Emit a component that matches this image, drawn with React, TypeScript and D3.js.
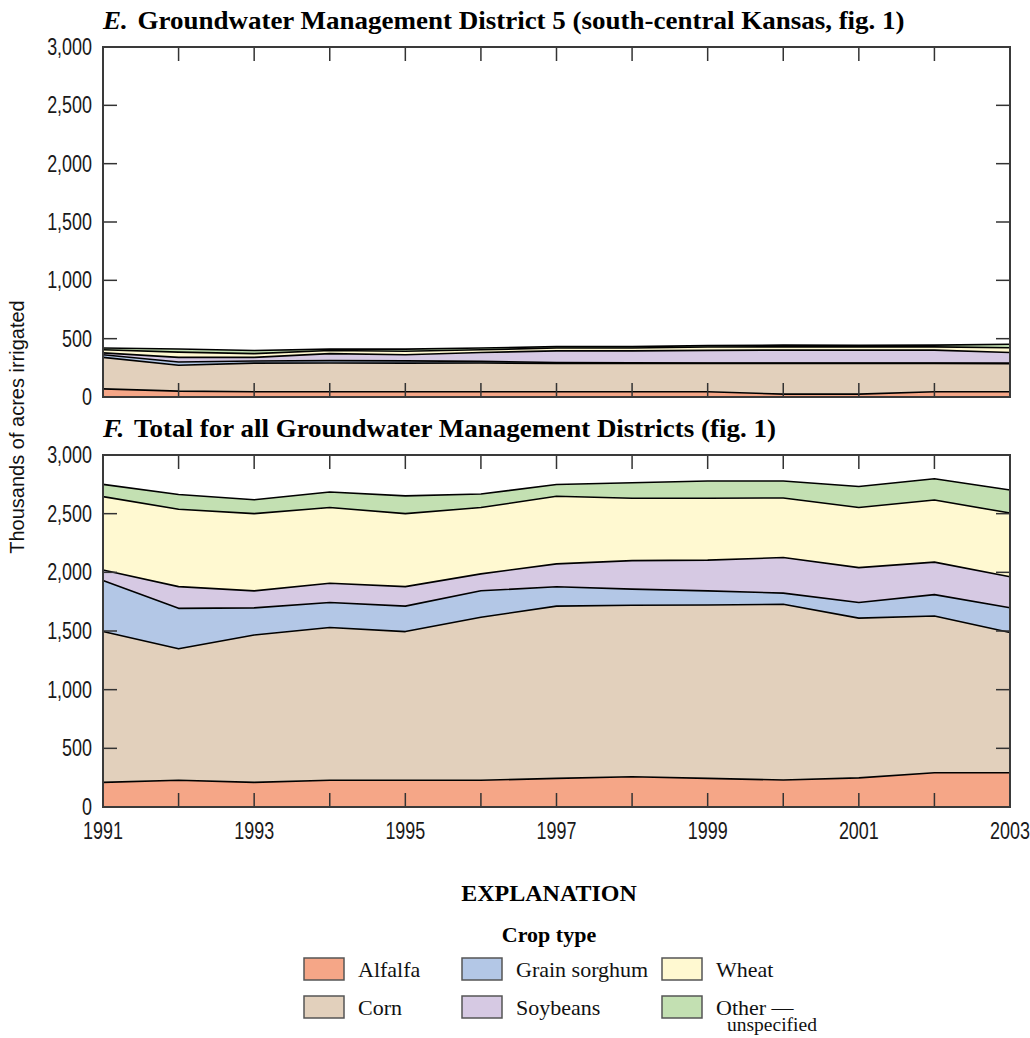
import React, { useEffect } from 'react';
import * as d3 from 'd3';

// Irrigated acreage by crop type, thousands of acres, 1991–2003
const years = [1991, 1992, 1993, 1994, 1995, 1996, 1997, 1998, 1999, 2000, 2001, 2002, 2003];

// Groundwater Management District 5
const gmd5Alfalfa = [70, 50, 45, 45, 45, 45, 45, 45, 45, 25, 25, 45, 45];
const gmd5Corn = [270, 222, 245, 247, 245, 247, 243, 243, 243, 263, 263, 243, 240];
const gmd5Sorghum = [22, 28, 18, 20, 20, 13, 8, 5, 4, 4, 4, 4, 5];
const gmd5Soybeans = [16, 40, 32, 60, 52, 77, 99, 102, 108, 110, 110, 110, 92];
const gmd5Wheat = [27, 45, 32, 26, 30, 23, 25, 25, 28, 28, 28, 28, 40];
const gmd5Other = [15, 27, 26, 12, 18, 15, 12, 12, 12, 15, 13, 15, 30];

// Total for all Groundwater Management Districts
const allAlfalfa = [210, 228, 210, 228, 228, 228, 244, 258, 244, 230, 248, 292, 292];
const allCorn = [1285, 1120, 1256, 1302, 1267, 1389, 1468, 1462, 1477, 1498, 1362, 1336, 1195];
const allSorghum = [435, 345, 231, 213, 217, 226, 165, 137, 121, 95, 133, 182, 211];
const allSoybeans = [90, 185, 145, 164, 166, 144, 195, 243, 262, 303, 297, 277, 264];
const allWheat = [625, 660, 658, 645, 622, 565, 576, 532, 528, 508, 513, 530, 543];
const allOther = [105, 126, 118, 133, 152, 116, 100, 131, 146, 144, 179, 180, 197];

const cropKeys = ['alfalfa', 'corn', 'sorghum', 'soybeans', 'wheat', 'other'];
const cropLabels = ['Alfalfa', 'Corn', 'Grain sorghum', 'Soybeans', 'Wheat', 'Other —'];
const cropColors = ['#F5A687', '#E2D0BC', '#B3C7E6', '#D6C9E3', '#FFF9D1', '#C3E0B2'];

const yTickValues = [0, 500, 1000, 1500, 2000, 2500, 3000];
const xLabelYears = [1991, 1993, 1995, 1997, 1999, 2001, 2003];

const SANS = '"Liberation Sans", Arial, sans-serif';
const SERIF = '"Liberation Serif", "Times New Roman", serif';
const NARROW = 0.78; // horizontal squeeze for condensed axis numerals

type Row = { year: number; [k: string]: number };

function buildRows(series: number[][]): Row[] {
  return years.map((year, i) => {
    const row: Row = { year };
    cropKeys.forEach((k, j) => {
      row[k] = series[j][i];
    });
    return row;
  });
}

const gmd5Rows = buildRows([gmd5Alfalfa, gmd5Corn, gmd5Sorghum, gmd5Soybeans, gmd5Wheat, gmd5Other]);
const allRows = buildRows([allAlfalfa, allCorn, allSorghum, allSoybeans, allWheat, allOther]);

const LEFT = 103;
const RIGHT = 1010;
const TICK = 14;

const x = d3.scaleLinear().domain([1991, 2003]).range([LEFT, RIGHT]);

function Panel({ rows, top, bottom, letter, title, showYears }: {
  rows: Row[]; top: number; bottom: number; letter: string; title: string; showYears: boolean;
}) {
  const y = d3.scaleLinear().domain([0, 3000]).range([bottom, top]);
  const stacked = d3.stack<Row>().keys(cropKeys)(rows);
  const area = d3.area<d3.SeriesPoint<Row>>()
    .x(d => x(d.data.year))
    .y0(d => y(d[0]))
    .y1(d => y(d[1]));
  const line = d3.line<d3.SeriesPoint<Row>>()
    .x(d => x(d.data.year))
    .y(d => y(d[1]));

  return (
    <g>
      <text transform={`translate(${LEFT},${top - 18}) scale(1.08,1)`} fontFamily={SERIF} fontWeight="bold"
        fontSize={25} fill="#000">
        <tspan fontStyle="italic">{letter}.</tspan>
        <tspan dx={9}>{title}</tspan>
      </text>
      {stacked.map((s, i) => (
        <path key={'a' + s.key} d={area(s) || ''} fill={cropColors[i]} stroke="none" />
      ))}
      {stacked.map(s => (
        <path key={'l' + s.key} d={line(s) || ''} fill="none" stroke="#000" strokeWidth={1.6} strokeLinejoin="round" />
      ))}
      {years.slice(1, -1).map(yr => (
        <g key={'xt' + yr} stroke="#333" strokeWidth={1.5}>
          <line x1={x(yr)} x2={x(yr)} y1={bottom} y2={bottom - TICK} />
          <line x1={x(yr)} x2={x(yr)} y1={top} y2={top + TICK} />
        </g>
      ))}
      {yTickValues.slice(1, -1).map(v => (
        <g key={'yt' + v} stroke="#333" strokeWidth={1.5}>
          <line x1={LEFT} x2={LEFT + TICK} y1={y(v)} y2={y(v)} />
          <line x1={RIGHT} x2={RIGHT - TICK} y1={y(v)} y2={y(v)} />
        </g>
      ))}
      <rect x={LEFT} y={top} width={RIGHT - LEFT} height={bottom - top} fill="none" stroke="#3a3a3a" strokeWidth={2} />
      {yTickValues.map(v => (
        <text key={'yl' + v} transform={`translate(${LEFT - 11},${y(v) + 8}) scale(${NARROW},1)`} textAnchor="end"
          fontFamily={SANS} fontSize={23} fill="#1a1a1a">
          {d3.format(',')(v)}
        </text>
      ))}
      {showYears && xLabelYears.map(yr => (
        <text key={'xl' + yr} transform={`translate(${x(yr)},${bottom + 32}) scale(${NARROW},1)`} textAnchor="middle"
          fontFamily={SANS} fontSize={23} fill="#1a1a1a">
          {yr}
        </text>
      ))}
    </g>
  );
}

function Legend() {
  const boxX = [304, 462, 662];
  const rowY = [958, 996];
  const order = [
    [0, 2, 4],
    [1, 3, 5],
  ];
  return (
    <g>
      <text x={549} y={901} textAnchor="middle" fontFamily={SERIF} fontWeight="bold" fontSize={24}>EXPLANATION</text>
      <text x={549} y={942} textAnchor="middle" fontFamily={SERIF} fontWeight="bold" fontSize={22}>Crop type</text>
      {order.map((row, r) => row.map((ci, c) => (
        <g key={'lg' + ci}>
          <rect x={boxX[c]} y={rowY[r]} width={40} height={22} fill={cropColors[ci]} stroke="#555" strokeWidth={1.5} />
          <text x={boxX[c] + 54} y={rowY[r] + 11} dy="0.35em" fontFamily={SERIF} fontSize={22} fill="#111">
            {cropLabels[ci]}
          </text>
        </g>
      )))}
      <text x={boxX[2] + 65} y={rowY[1] + 35} fontFamily={SERIF} fontSize={19.5} fill="#111">unspecified</text>
    </g>
  );
}

export default function App() {
  useEffect(() => {
    document.body.style.margin = '0';
  }, []);
  return (
    <svg width={1030} height={1038} viewBox="0 0 1030 1038" style={{ display: 'block', background: '#fff' }}>
      <rect width={1030} height={1038} fill="#fff" />
      <Panel rows={gmd5Rows} top={47} bottom={397} letter="E"
        title="Groundwater Management District 5 (south-central Kansas, fig. 1)" showYears={false} />
      <Panel rows={allRows} top={455} bottom={807} letter="F"
        title="Total for all Groundwater Management Districts (fig. 1)" showYears={true} />
      <text transform="translate(24,427) rotate(-90)" textAnchor="middle"
        fontFamily={SANS} fontSize={20} fill="#111">
        Thousands of acres irrigated
      </text>
      <Legend />
    </svg>
  );
}
